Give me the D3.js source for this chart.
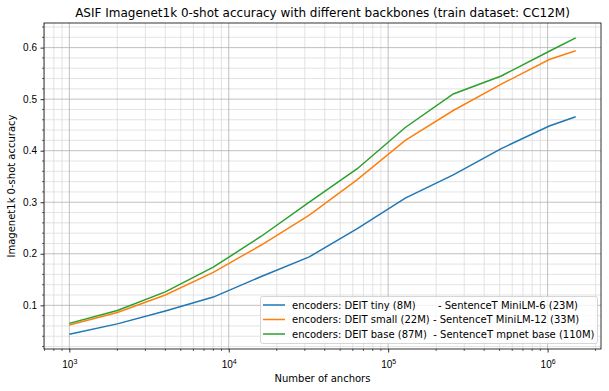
<!DOCTYPE html>
<html>
<head>
<meta charset="utf-8">
<script src="https://cdn.jsdelivr.net/npm/d3@7"></script>
<style>
  body { margin: 0; background: #fff; }
  svg { font-family: "DejaVu Sans", sans-serif; }
  .legend text { white-space: pre; }
</style>
</head>
<body>
<div id="chart"></div>
<script>
// number of anchors (x) and accuracy per backbone pair
const anchors = [1000, 2000, 4000, 8000, 16000, 32000, 64000, 128000, 256000, 512000, 1024000, 1500000];
const accTiny  = [0.044, 0.064, 0.089, 0.116, 0.156, 0.194, 0.249, 0.308, 0.353, 0.404, 0.448, 0.466];
const accSmall = [0.062, 0.086, 0.120, 0.164, 0.217, 0.275, 0.344, 0.420, 0.478, 0.529, 0.577, 0.594];
const accBase  = [0.065, 0.090, 0.126, 0.174, 0.234, 0.300, 0.365, 0.445, 0.510, 0.545, 0.593, 0.619];
const seriesNames = [
  "encoders: DEIT tiny (8M)       - SentenceT MiniLM-6 (23M)",
  "encoders: DEIT small (22M) - SentenceT MiniLM-12 (33M)",
  "encoders: DEIT base (87M)  - SentenceT mpnet base (110M)"
];
const colors = ["#1f77b4", "#ff7f0e", "#2ca02c"];
const yTicks = [0.1, 0.2, 0.3, 0.4, 0.5, 0.6];
const xTicks = [1e3, 1e4, 1e5, 1e6];
const xTickExp = ["3", "4", "5", "6"];

const W = 609, H = 391;
const margin = { top: 23, right: 8, bottom: 42, left: 44 };
const width = W - margin.left - margin.right;
const height = H - margin.top - margin.bottom;

const svg = d3.select("#chart").append("svg")
  .attr("width", W).attr("height", H);

const g = svg.append("g")
  .attr("transform", `translate(${margin.left},${margin.top})`);

// matplotlib style 5% margins (log space for x)
const lx0 = Math.log10(d3.min(anchors)), lx1 = Math.log10(d3.max(anchors));
const padX = (lx1 - lx0) * 0.05;
const allY = accTiny.concat(accSmall, accBase);
const y0 = d3.min(allY), y1 = d3.max(allY);
const padY = (y1 - y0) * 0.05;

const x = d3.scaleLog()
  .domain([Math.pow(10, lx0 - padX), Math.pow(10, lx1 + padX)])
  .range([0, width]);
const y = d3.scaleLinear()
  .domain([y0 - padY, y1 + padY])
  .range([height, 0]);

// minor positions
const xMinor = [];
for (let e = 2; e <= 6; e++) {
  for (let m = 2; m <= 9; m++) {
    const v = m * Math.pow(10, e);
    if (v >= x.domain()[0] && v <= x.domain()[1]) xMinor.push(v);
  }
}
const yMinor = d3.range(0.02, 0.66, 0.02)
  .map(v => +v.toFixed(2))
  .filter(v => v >= y.domain()[0] && v <= y.domain()[1] && Math.abs(v * 10 - Math.round(v * 10)) > 1e-6);

// grid
g.append("g").selectAll("line").data(xMinor).enter().append("line")
  .attr("x1", d => x(d)).attr("x2", d => x(d))
  .attr("y1", 0).attr("y2", height)
  .attr("stroke", "#dcdcdc").attr("stroke-width", 0.8);
g.append("g").selectAll("line").data(yMinor).enter().append("line")
  .attr("x1", 0).attr("x2", width)
  .attr("y1", d => y(d)).attr("y2", d => y(d))
  .attr("stroke", "#dcdcdc").attr("stroke-width", 0.8);
g.append("g").selectAll("line").data(xTicks).enter().append("line")
  .attr("x1", d => x(d)).attr("x2", d => x(d))
  .attr("y1", 0).attr("y2", height)
  .attr("stroke", "#b0b0b0").attr("stroke-width", 0.8);
g.append("g").selectAll("line").data(yTicks).enter().append("line")
  .attr("x1", 0).attr("x2", width)
  .attr("y1", d => y(d)).attr("y2", d => y(d))
  .attr("stroke", "#b0b0b0").attr("stroke-width", 0.8);

// lines
const line = d3.line()
  .x((d, i) => x(anchors[i]))
  .y(d => y(d));

[accTiny, accSmall, accBase].forEach((s, i) => {
  g.append("path")
    .datum(s)
    .attr("d", line)
    .attr("fill", "none")
    .attr("stroke", colors[i])
    .attr("stroke-width", 1.5);
});

// axes
const xAxis = g.append("g")
  .attr("transform", `translate(0,${height})`)
  .call(d3.axisBottom(x).tickValues(xTicks).tickSize(3.5).tickPadding(3.5).tickFormat(""));
xAxis.append("g").selectAll("line").data(xMinor).enter().append("line")
  .attr("x1", d => x(d)).attr("x2", d => x(d))
  .attr("y1", 0).attr("y2", 2)
  .attr("stroke", "#000").attr("stroke-width", 0.6);
xAxis.selectAll(".tick").append("text")
  .attr("y", 19).attr("fill", "#000").attr("font-size", 10)
  .attr("text-anchor", "middle")
  .each(function(d, i) {
    const t = d3.select(this);
    t.append("tspan").text("10");
    t.append("tspan").attr("dy", -4.5).attr("font-size", 7).text(xTickExp[i]);
  });

const yAxis = g.append("g")
  .call(d3.axisLeft(y).tickValues(yTicks).tickSize(3.5).tickPadding(3.5).tickFormat(d3.format(".1f")));
yAxis.selectAll(".tick text").attr("font-size", 10).attr("fill", "#000");
yAxis.append("g").selectAll("line").data(yMinor).enter().append("line")
  .attr("x1", -2).attr("x2", 0)
  .attr("y1", d => y(d)).attr("y2", d => y(d))
  .attr("stroke", "#000").attr("stroke-width", 0.6);

[xAxis, yAxis].forEach(a => {
  a.select(".domain").remove();
  a.selectAll(".tick line").attr("stroke-width", 0.8);
});

// frame
g.append("rect")
  .attr("width", width).attr("height", height)
  .attr("fill", "none").attr("stroke", "#000").attr("stroke-width", 0.8);

// labels
svg.append("text")
  .attr("x", margin.left + width / 2).attr("y", 17)
  .attr("text-anchor", "middle").attr("font-size", 12)
  .text("ASIF Imagenet1k 0-shot accuracy with different backbones (train dataset: CC12M)");
svg.append("text")
  .attr("x", margin.left + width / 2).attr("y", 382)
  .attr("text-anchor", "middle").attr("font-size", 10)
  .text("Number of anchors");
svg.append("text")
  .attr("transform", `translate(15,${margin.top + height / 2}) rotate(-90)`)
  .attr("text-anchor", "middle").attr("font-size", 10)
  .text("Imagenet1k 0-shot accuracy");

// legend
const leg = svg.append("g").attr("class", "legend")
  .attr("transform", "translate(260.5,296.5)");
leg.append("rect")
  .attr("width", 337).attr("height", 47).attr("rx", 2)
  .attr("fill", "#fff").attr("fill-opacity", 0.8)
  .attr("stroke", "#cccccc").attr("stroke-width", 0.8);
seriesNames.forEach((name, i) => {
  const yy = 8.5 + i * 14.5;
  leg.append("line")
    .attr("x1", 2.5).attr("x2", 24.5).attr("y1", yy).attr("y2", yy)
    .attr("stroke", colors[i]).attr("stroke-width", 1.5);
  leg.append("text")
    .attr("x", 31.5).attr("y", yy + 3.5).attr("font-size", 10)
    .attr("xml:space", "preserve")
    .text(name);
});
</script>
</body>
</html>
